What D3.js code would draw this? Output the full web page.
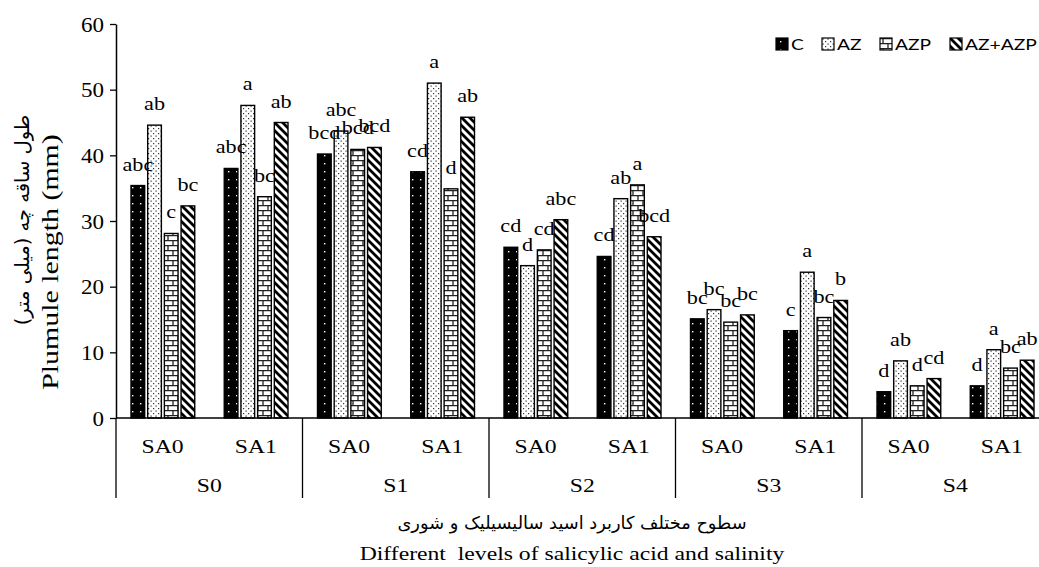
<!DOCTYPE html>
<html>
<head>
<meta charset="utf-8">
<script src="https://cdn.jsdelivr.net/npm/d3@7"></script>
<style>
  body { margin: 0; background: #fff; }
  svg { display: block; }
</style>
</head>
<body>
<div id="chart"></div>
<script>
// Categories
var salinity = ["S0", "S1", "S2", "S3", "S4"];
var saLevels = ["SA0", "SA1"];
var series = ["C", "AZ", "AZP", "AZ+AZP"];
var yTicks = [0, 10, 20, 30, 40, 50, 60];

// Plumule length (mm), order: S0-SA0, S0-SA1, S1-SA0, ... S4-SA1
var valuesC     = [35.4, 38.0, 40.2, 37.5, 26.0, 24.6, 15.1, 13.3, 4.0, 4.9];
var valuesAZ    = [44.6, 47.6, 43.7, 51.0, 23.2, 33.4, 16.5, 22.2, 8.7, 10.4];
var valuesAZP   = [28.1, 33.7, 40.9, 34.9, 25.6, 35.5, 14.6, 15.3, 4.9, 7.6];
var valuesAZAZP = [32.3, 45.0, 41.2, 45.8, 30.2, 27.6, 15.7, 17.9, 6.0, 8.8];

// Mean comparison letters
var lettersC     = ["abc", "abc", "bcd", "cd", "cd", "cd", "bc", "c", "d", "d"];
var lettersAZ    = ["ab", "a", "abc", "a", "d", "ab", "bc", "a", "ab", "a"];
var lettersAZP   = ["c", "bc", "bcd", "d", "cd", "a", "bc", "bc", "d", "bc"];
var lettersAZAZP = ["bc", "ab", "bcd", "ab", "abc", "bcd", "bc", "b", "cd", "ab"];

var svgWidth = 1039;
var svgHeight = 567;

var svg = d3.select("#chart")
  .append("svg")
  .attr("width", svgWidth)
  .attr("height", svgHeight);

var serif = "'Liberation Serif', 'Times New Roman', serif";
var stretch = 1.28;

// build the table
var subcats = [];
salinity.forEach(s => saLevels.forEach(a => subcats.push(s + "|" + a)));
var allValues = [valuesC, valuesAZ, valuesAZP, valuesAZAZP];
var allLetters = [lettersC, lettersAZ, lettersAZP, lettersAZAZP];
var table = [];
subcats.forEach((key, i) => {
  series.forEach((name, j) => {
    table.push({ key: key, name: name, value: allValues[j][i], letter: allLetters[j][i] });
  });
});

// Scales
var plotLeft = 116, plotRight = 1048.5;
var yScale = d3.scaleLinear().domain([0, 60]).range([418, 24]);
var x0 = d3.scaleBand().domain(subcats).range([plotLeft, plotRight]);
var x1 = d3.scaleBand().domain(series).range([15, x0.bandwidth() - 14.5]).paddingInner(0.18);

// Patterns
var defs = svg.append("defs");

var pC = defs.append("pattern").attr("id", "pat-C")
  .attr("patternUnits", "userSpaceOnUse").attr("width", 8).attr("height", 8);
pC.append("rect").attr("width", 8).attr("height", 8).attr("fill", "#000");
pC.append("rect").attr("x", 4).attr("y", 3).attr("width", 1.4).attr("height", 1.4).attr("fill", "#fff");

var pAZ = defs.append("pattern").attr("id", "pat-AZ")
  .attr("patternUnits", "userSpaceOnUse").attr("width", 5).attr("height", 5);
pAZ.append("rect").attr("width", 5).attr("height", 5).attr("fill", "#fff");
pAZ.append("rect").attr("x", 0.5).attr("y", 0.5).attr("width", 1.2).attr("height", 1.2).attr("fill", "#333");
pAZ.append("rect").attr("x", 3).attr("y", 3).attr("width", 1.2).attr("height", 1.2).attr("fill", "#333");

var pAZP = defs.append("pattern").attr("id", "pat-AZP")
  .attr("patternUnits", "userSpaceOnUse").attr("width", 10).attr("height", 10);
pAZP.append("rect").attr("width", 10).attr("height", 10).attr("fill", "#fff");
pAZP.append("path")
  .attr("d", "M0,0.6H10M0,5.6H10M3,0.6V5.6M8,5.6V10.6")
  .attr("stroke", "#222").attr("stroke-width", 1.3).attr("fill", "none");

var pMix = defs.append("pattern").attr("id", "pat-AZ+AZP")
  .attr("patternUnits", "userSpaceOnUse").attr("width", 8).attr("height", 8);
pMix.append("rect").attr("width", 8).attr("height", 8).attr("fill", "#fff");
pMix.append("path")
  .attr("d", "M-2,-2L10,10M-2,6L2,10M6,-2L10,2")
  .attr("stroke", "#000").attr("stroke-width", 2.8);

var fillFor = name => "url(#pat-" + name + ")";

// Bars
svg.append("g").selectAll("rect")
  .data(table)
  .enter()
  .append("rect")
  .attr("x", d => x0(d.key) + x1(d.name))
  .attr("y", d => yScale(d.value))
  .attr("width", x1.bandwidth())
  .attr("height", d => yScale(0) - yScale(d.value))
  .attr("fill", d => fillFor(d.name))
  .attr("stroke", "#000")
  .attr("stroke-width", 1.4);

// Letters above bars
svg.append("g").selectAll("text")
  .data(table)
  .enter()
  .append("text")
  .attr("transform", d => `translate(${x0(d.key) + x1(d.name) + x1.bandwidth() / 2}, ${yScale(d.value) - 15}) scale(1.2,1)`)
  .attr("text-anchor", "middle")
  .attr("font-family", serif)
  .attr("font-size", "18.5px")
  .text(d => d.letter);

// Y axis
var leftAxis = d3.axisLeft(yScale).tickValues(yTicks).tickSize(6).tickSizeOuter(0);
var yAxisG = svg.append("g")
  .attr("transform", `translate(${plotLeft}, 0)`)
  .call(leftAxis);
yAxisG.select(".domain").attr("stroke-width", 1.5);
yAxisG.selectAll(".tick line").attr("stroke-width", 1.3);
yAxisG.selectAll("text")
  .attr("x", null).attr("dy", null)
  .attr("transform", `translate(-12, 7) scale(1.15,1)`)
  .attr("font-family", serif)
  .attr("font-size", "20px")
  .attr("fill", "#000");

// X axis line
svg.append("line")
  .attr("x1", plotLeft).attr("x2", svgWidth)
  .attr("y1", yScale(0)).attr("y2", yScale(0))
  .attr("stroke", "#000").attr("stroke-width", 1.5);

// Group dividers
var xs = d3.scaleBand().domain(salinity).range([plotLeft, plotRight]);
svg.append("g").selectAll("line")
  .data(salinity.concat(["end"]))
  .enter()
  .append("line")
  .attr("x1", (d, i) => plotLeft + i * xs.bandwidth())
  .attr("x2", (d, i) => plotLeft + i * xs.bandwidth())
  .attr("y1", yScale(0))
  .attr("y2", 498)
  .attr("stroke", "#000").attr("stroke-width", 1.3);

// SA labels
svg.append("g").selectAll("text")
  .data(subcats)
  .enter()
  .append("text")
  .attr("transform", d => `translate(${x0(d) + x0.bandwidth() / 2}, 453) scale(${stretch},1)`)
  .attr("text-anchor", "middle")
  .attr("font-family", serif)
  .attr("font-size", "18.5px")
  .text(d => d.split("|")[1]);

// Salinity labels
svg.append("g").selectAll("text")
  .data(salinity)
  .enter()
  .append("text")
  .attr("transform", d => `translate(${xs(d) + xs.bandwidth() / 2}, 492) scale(${stretch},1)`)
  .attr("text-anchor", "middle")
  .attr("font-family", serif)
  .attr("font-size", "18.5px")
  .text(d => d);

// Axis titles
svg.append("text")
  .attr("transform", `translate(572, 529)`)
  .attr("text-anchor", "middle")
  .attr("font-family", "'DejaVu Sans', sans-serif")
  .attr("font-size", "17.8px")
  .text("سطوح مختلف کاربرد اسید سالیسیلیک و شوری");

svg.append("text")
  .attr("transform", `translate(572, 560) scale(${stretch},1)`)
  .attr("text-anchor", "middle")
  .attr("font-family", serif)
  .attr("font-size", "18.5px")
  .attr("xml:space", "preserve")
  .style("white-space", "pre")
  .text("Different  levels of salicylic acid and salinity");

svg.append("text")
  .attr("transform", `translate(58, 262) rotate(-90) scale(1.3,1)`)
  .attr("text-anchor", "middle")
  .attr("font-family", serif)
  .attr("font-size", "23px")
  .text("Plumule length (mm)");

svg.append("text")
  .attr("transform", `translate(29, 220) rotate(-90)`)
  .attr("text-anchor", "middle")
  .attr("font-family", "'DejaVu Sans', sans-serif")
  .attr("font-size", "19.5px")
  .text("طول ساقه چه (میلی متر)");

// Legend
var legendX = [776, 822, 880, 950];
var legend = svg.append("g").selectAll("g")
  .data(series)
  .enter()
  .append("g")
  .attr("transform", (d, i) => `translate(${legendX[i]}, 38)`);
legend.append("rect")
  .attr("width", 12).attr("height", 12)
  .attr("fill", d => fillFor(d))
  .attr("stroke", "#000").attr("stroke-width", 1.2);
legend.append("text")
  .attr("transform", `translate(15, 12) scale(1.2,1)`)
  .attr("font-family", "Lato, 'Open Sans', sans-serif")
  .attr("font-size", "16px")
  .text(d => d);
</script>
</body>
</html>
